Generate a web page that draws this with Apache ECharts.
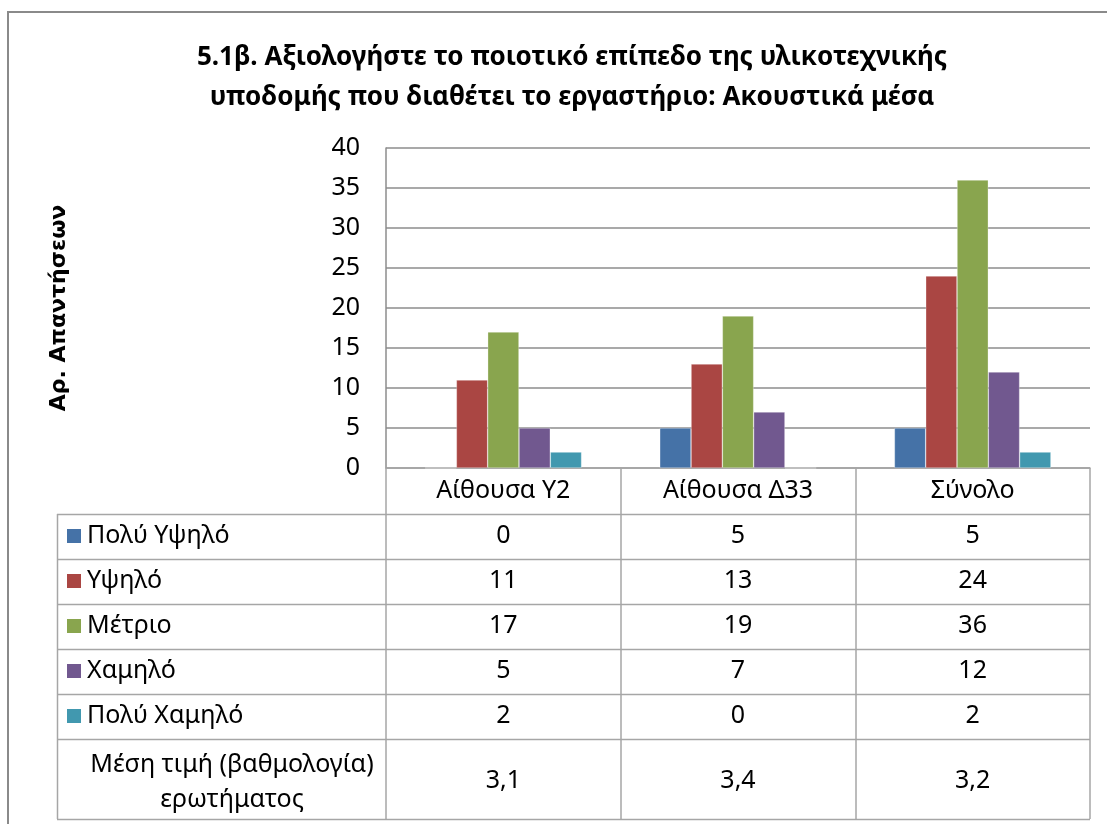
<!DOCTYPE html>
<html>
<head>
<meta charset="utf-8">
<script src="https://cdn.jsdelivr.net/npm/echarts@6/dist/echarts.min.js"></script>
<style>
  html, body { margin: 0; padding: 0; background: #fff; }
  #chart { width: 1107px; height: 824px; }
</style>
</head>
<body>
<div id="chart"></div>
<script>
// δεδομένα
const categories = ['Αίθουσα Υ2', 'Αίθουσα Δ33', 'Σύνολο'];
const seriesNames = ['Πολύ Υψηλό', 'Υψηλό', 'Μέτριο', 'Χαμηλό', 'Πολύ Χαμηλό'];
const polyYpsilo = [0, 5, 5];
const ypsilo = [11, 13, 24];
const metrio = [17, 19, 36];
const xamilo = [5, 7, 12];
const polyXamilo = [2, 0, 2];
const meanLabel = 'Μέση τιμή (βαθμολογία)\nερωτήματος';
const meanValues = ['3,1', '3,4', '3,2'];
const yTicks = [0, 5, 10, 15, 20, 25, 30, 35, 40];

const colors = ['#4572A7', '#AA4643', '#89A54E', '#71588F', '#4198AF'];
const seriesData = [polyYpsilo, ypsilo, metrio, xamilo, polyXamilo];

const chart = echarts.init(document.getElementById('chart'));

const font = '"Noto Sans", sans-serif';
const tableLine = '#a6a6a6';
const fs = 25;

// γραμμές του πίνακα κάτω από το γράφημα
const rowLines = [514, 559, 604, 649, 694, 739, 819];
const rowCenters = [536, 581, 626, 671, 716]; // κέντρα γραμμών τιμών
const gridBottomY = 468;

// ένας άξονας x ανά γραμμή του πίνακα (τιμές σε κελιά)
const valueAxes = seriesData.map((arr, i) => ({
    type: 'category',
    gridIndex: 0,
    position: 'bottom',
    data: arr.map(String),
    axisLine: { show: false },
    axisTick: { show: false },
    axisLabel: {
        interval: 0,
        margin: rowCenters[i] - gridBottomY,
        verticalAlign: 'middle',
        fontSize: fs,
        fontFamily: font,
        color: '#000'
    }
}));
valueAxes.push({
    type: 'category',
    gridIndex: 0,
    position: 'bottom',
    data: meanValues,
    axisLine: { show: false },
    axisTick: { show: false },
    axisLabel: {
        interval: 0,
        margin: 781 - gridBottomY,
        verticalAlign: 'middle',
        fontSize: fs,
        fontFamily: font,
        color: '#000'
    }
});

const graphics = [
    // εξωτερικό πλαίσιο
    {
        type: 'rect',
        shape: { x: 8, y: 12, width: 1200, height: 900 },
        style: { fill: 'none', stroke: '#8a8a8a', lineWidth: 2 },
        silent: true
    },
    // αριστερή πλευρά πίνακα
    {
        type: 'line',
        shape: { x1: 57.5, y1: 514, x2: 57.5, y2: 819 },
        style: { stroke: tableLine, lineWidth: 1.5 }
    },
    {
        type: 'text',
        style: {
            text: meanLabel,
            x: 232, y: 782,
            align: 'center', verticalAlign: 'middle',
            font: fs + 'px ' + font,
            lineHeight: 35,
            fill: '#000'
        }
    }
];
rowLines.forEach(y => {
    graphics.push({
        type: 'line',
        shape: { x1: 57, y1: y + 0.5, x2: 1090, y2: y + 0.5 },
        style: { stroke: tableLine, lineWidth: 1.5 }
    });
});
// κλειδιά υπομνήματος στις γραμμές του πίνακα
seriesNames.forEach((name, i) => {
    graphics.push({
        type: 'rect',
        shape: { x: 67, y: rowCenters[i] - 7, width: 14, height: 14 },
        style: { fill: colors[i] }
    });
    graphics.push({
        type: 'text',
        style: {
            text: name,
            x: 87, y: rowCenters[i],
            align: 'left', verticalAlign: 'middle',
            font: fs + 'px ' + font,
            fill: '#000'
        }
    });
});

const option = {
    animation: false,
    color: colors,
    title: {
        text: '5.1β. Αξιολογήστε το ποιοτικό επίπεδο της υλικοτεχνικής\nυποδομής που διαθέτει το εργαστήριο: Ακουστικά μέσα',
        left: 567,
        top: 33,
        textAlign: 'center',
        textStyle: {
            fontFamily: font,
            fontWeight: 'bold',
            fontSize: 26,
            lineHeight: 40,
            color: '#000'
        }
    },
    grid: {
        left: 386,
        right: 17,
        top: 148,
        bottom: 824 - gridBottomY
    },
    xAxis: [
        {
            type: 'category',
            data: categories,
            axisLine: { show: true, lineStyle: { color: tableLine, width: 1.5 } },
            axisTick: {
                show: true,
                length: 819 - gridBottomY,
                lineStyle: { color: tableLine, width: 1.5 }
            },
            axisLabel: {
                interval: 0,
                margin: 23,
                verticalAlign: 'middle',
                fontSize: fs,
                fontFamily: font,
                color: '#000'
            }
        }
    ].concat(valueAxes),
    yAxis: {
        type: 'value',
        min: 0,
        max: 40,
        interval: 5,
        name: 'Αρ. Απαντήσεων',
        nameLocation: 'middle',
        nameRotate: 90,
        nameGap: 316,
        nameTextStyle: {
            fontFamily: '"DejaVu Sans", sans-serif',
            fontWeight: 'bold',
            fontSize: 22,
            color: '#000'
        },
        axisLine: { show: true, lineStyle: { color: '#8c8c8c', width: 1.5 } },
        axisTick: { show: false },
        axisLabel: {
            margin: 26,
            fontSize: fs,
            fontFamily: font,
            color: '#000',
            customValues: yTicks
        },
        splitLine: { show: true, lineStyle: { color: '#8c8c8c', width: 1.5 } }
    },
    series: seriesNames.map((name, i) => ({
        name: name,
        type: 'bar',
        xAxisIndex: 0,
        data: seriesData[i],
        barGap: '0%',
        barCategoryGap: '33.3%',
        itemStyle: { borderColor: 'rgba(255,255,255,0.5)', borderWidth: 0.6 }
    })),
    graphic: graphics
};

chart.setOption(option);
</script>
</body>
</html>
